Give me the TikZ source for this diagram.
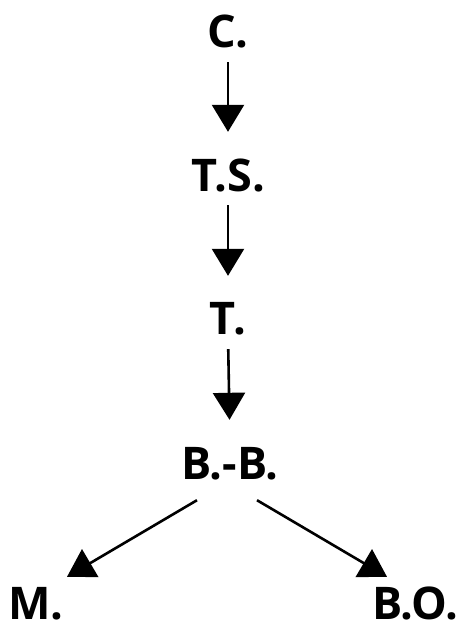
\documentclass[tikz,border=0pt]{standalone}
\usepackage{fontspec}
\setmainfont{Open Sans}
\usetikzlibrary{arrows.meta,calc}
\begin{document}
\begin{tikzpicture}[x=1pt,y=1pt,
  lbl/.style={font=\fontsize{45}{45}\selectfont\bfseries, inner sep=0pt, text height=33pt, text depth=0pt, anchor=base},
  arr/.style={line width=2.6pt, -{Triangle[length=27pt,width=32pt]}}]
\useasboundingbox (0,0) rectangle (463,624);
\node[lbl] (C)  at (228,576) {C.};
\node[lbl] (TS) at (228,432) {T.S.};
\node[lbl] (T)  at (228,289) {T.};
\node[lbl] (BB) at (230,144) {B.-B.};
\node[lbl] (M)  at (36,5) {M.};
\node[lbl] (BO) at (415,5) {B.O.};
\draw[arr, shorten <=14pt, shorten >=27pt] (C.south) -- (TS.north);
\draw[arr, shorten <=13pt, shorten >=26pt] (TS.south) -- (T.north);
\draw[arr, shorten <=14pt, shorten >=27pt] (T.south) -- (BB.north);
\draw[arr] ($(BB.south)+(-33,-20)$) -- ($(M.north)+(31,9)$);
\draw[arr] ($(BB.south)+(27,-20)$) -- ($(BO.north)+(-28,9)$);
\end{tikzpicture}
\end{document}
